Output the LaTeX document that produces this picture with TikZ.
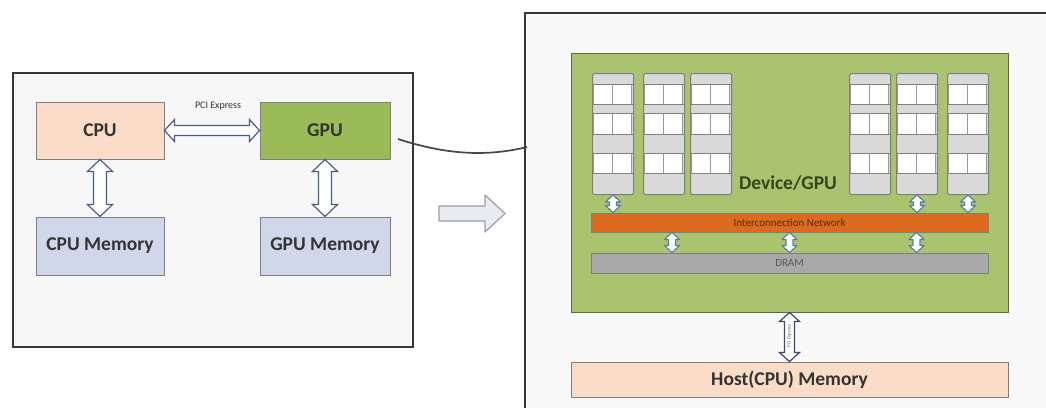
\documentclass[tikz,border=0pt]{standalone}
\usepackage{fontspec}
\setmainfont{Carlito}
\usetikzlibrary{calc}

\definecolor{peach}{HTML}{FADCC8}
\definecolor{gpugreen}{HTML}{9BBB59}
\definecolor{devgreen}{HTML}{A9C36F}
\definecolor{memblue}{HTML}{D0D7EA}
\definecolor{boxline}{HTML}{7F7F7F}
\definecolor{frameline}{HTML}{363636}
\definecolor{icnorange}{HTML}{DC6B1F}
\definecolor{dramgray}{HTML}{A8A8A8}
\definecolor{arrowline}{HTML}{4C5D86}
\definecolor{smallarrowline}{HTML}{5B7BA6}
\definecolor{textgray}{HTML}{333333}
\definecolor{devtext}{HTML}{34471A}
\definecolor{expandfill}{HTML}{EAEAF2}
\definecolor{expandline}{HTML}{9C9CAC}

% vertical hollow double arrow: style, top point, bottom point, shaft half width, head half width, head length
\newcommand\vdblarrow[6]{%
  \path[#1] let \p1=#2, \p2=#3 in
    (\x1,\y1) -- ({\x1+#5},{\y1-#6}) -- ({\x1+#4},{\y1-#6}) -- ({\x1+#4},{\y2+#6})
    -- ({\x1+#5},{\y2+#6}) -- (\x1,\y2) -- ({\x1-#5},{\y2+#6}) -- ({\x1-#4},{\y2+#6})
    -- ({\x1-#4},{\y1-#6}) -- ({\x1-#5},{\y1-#6}) -- cycle;}
% horizontal hollow double arrow: style, left point, right point, shaft half width, head half width, head length
\newcommand\hdblarrow[6]{%
  \path[#1] let \p1=#2, \p2=#3 in
    (\x1,\y1) -- ({\x1+#6},{\y1+#5}) -- ({\x1+#6},{\y1+#4}) -- ({\x2-#6},{\y1+#4})
    -- ({\x2-#6},{\y1+#5}) -- (\x2,\y1) -- ({\x2-#6},{\y1-#5}) -- ({\x2-#6},{\y1-#4})
    -- ({\x1+#6},{\y1-#4}) -- ({\x1+#6},{\y1-#5}) -- cycle;}

\tikzset{
  frame/.style={draw=frameline, line width=2.6pt, fill=#1},
  unit/.style={draw=boxline, line width=1pt, inner sep=0pt, text=textgray,
    font=\fontsize{19.5}{20}\selectfont\bfseries},
  bar/.style={draw=boxline, line width=1pt, inner sep=0pt, font=\fontsize{11}{12}\selectfont},
  bigarrow/.style={draw=arrowline, fill=white, line width=1.2pt, line join=miter},
  smallarrow/.style={draw=smallarrowline, fill=white, line width=1.1pt, line join=round},
  smbox/.style={draw=boxline, fill=black!15, line width=1pt, rounded corners=1.5pt,
    minimum width=41pt, minimum height=121pt, inner sep=0pt},
  smcell/.style={draw=black!40, fill=white, line width=0.6pt},
  smrow/.style={draw=black!50, line width=0.7pt},
  smcol/.pic={
    \node[smbox, anchor=north west] (-box) at (0,0) {};
    \foreach \a/\b in {11/31, 40/61, 80/100} {
      \path[smcell] (1.5,\a) rectangle (20.5,\b);
      \path[smcell] (20.5,\a) rectangle (39.5,\b);
    }
    \foreach \r in {11,31,40,61,80,100} {\draw[smrow] (0,\r) -- (41,\r);}
  }
}

\begin{document}
\begin{tikzpicture}[x=1pt, y=-1pt]
  \useasboundingbox[fill=white] (0,0) rectangle (1046,407);
  \clip (0,0) rectangle (1046,407);

  % ---------- left: host system ----------
  \path[frame=black!3] (13,73) rectangle (413,347);

  \node[unit, fill=peach, minimum width=128pt, minimum height=57pt] (cpu) at (100,130.5) {CPU};
  \node[unit, fill=gpugreen, minimum width=130pt, minimum height=57pt] (gpu) at (325,130.5) {GPU};
  \node[unit, fill=memblue, minimum width=128pt, minimum height=58pt] (cpumem) at (100,246) {CPU Memory};
  \node[unit, fill=memblue, minimum width=130pt, minimum height=58pt] (gpumem) at (325,246) {GPU Memory};
  \node[font=\fontsize{10}{11}\selectfont, text=textgray] (pcilabel) at (218,106) {PCI Express};

  \hdblarrow{bigarrow}{(cpu.east)}{(gpu.west)}{5pt}{11pt}{10pt}
  \vdblarrow{bigarrow}{(cpu.south)}{(cpumem.north)}{6.5pt}{12.5pt}{12pt}
  \vdblarrow{bigarrow}{(gpu.south)}{(gpumem.north)}{6.5pt}{12.5pt}{12pt}

  % ---------- right: device detail ----------
  \path[frame=black!2.5] (525,13) rectangle (1070,430);

  % link from the GPU box into the detailed view
  \coordinate (wireA) at (398,139);
  \coordinate (wireB) at (527,147);
  \draw[black!72, line width=1.7pt] (wireA) .. controls (450,156) and (490,156) .. (wireB);

  % "expands to" arrow
  \path[draw=expandline, fill=expandfill, line width=1.2pt, line join=round]
    (439,206) -- (485,206) -- (485,195) -- (505,213.5) -- (485,232) -- (485,221) -- (439,221) -- cycle;

  \node[draw=black!45!devgreen, fill=devgreen, line width=1pt, minimum width=437pt,
        minimum height=259pt, inner sep=0pt] (dev) at (789.5,182.5) {};

  \pic (sm1) at (592,73) {smcol};
  \pic (sm2) at (643,73) {smcol};
  \pic (sm3) at (690,73) {smcol};
  \pic (sm4) at (849,73) {smcol};
  \pic (sm5) at (896,73) {smcol};
  \pic (sm6) at (947,73) {smcol};

  \node[font=\fontsize{19.5}{20}\selectfont\bfseries, text=devtext] (devlabel) at (788,183) {Device/GPU};

  \node[bar, fill=icnorange, minimum width=397pt, minimum height=19pt, text=black!60!icnorange] (icn)
    at (789.5,222.5) {Interconnection Network};
  \node[bar, fill=dramgray, minimum width=397pt, minimum height=20pt, text=black!65] (dram)
    at (789.5,263) {DRAM};

  % column-to-network links
  \foreach \s in {sm1,sm5,sm6} {
    \vdblarrow{smallarrow}{(\s-box.south)}{(\s-box.south |- icn.north)}{3.5pt}{7.5pt}{7pt}
  }
  % network-to-DRAM links
  \coordinate (d1) at (672,0);
  \coordinate (d2) at (789.5,0);
  \coordinate (d3) at (916.5,0);
  \foreach \d in {d1,d2,d3} {
    \vdblarrow{smallarrow}{(\d |- icn.south)}{(\d |- dram.north)}{3.5pt}{7.5pt}{7pt}
  }

  \node[unit, fill=peach, minimum width=437pt, minimum height=35pt] (host) at (789.5,379.5) {Host(CPU) Memory};

  \vdblarrow{bigarrow, draw=arrowline!80!black}{(dev.south)}{(host.north)}{5pt}{10pt}{9pt}
  \node[rotate=90, font=\fontsize{5}{5}\selectfont, text=black!60] (hostlink) at (789.5,336) {PCI Express};
\end{tikzpicture}
\end{document}
